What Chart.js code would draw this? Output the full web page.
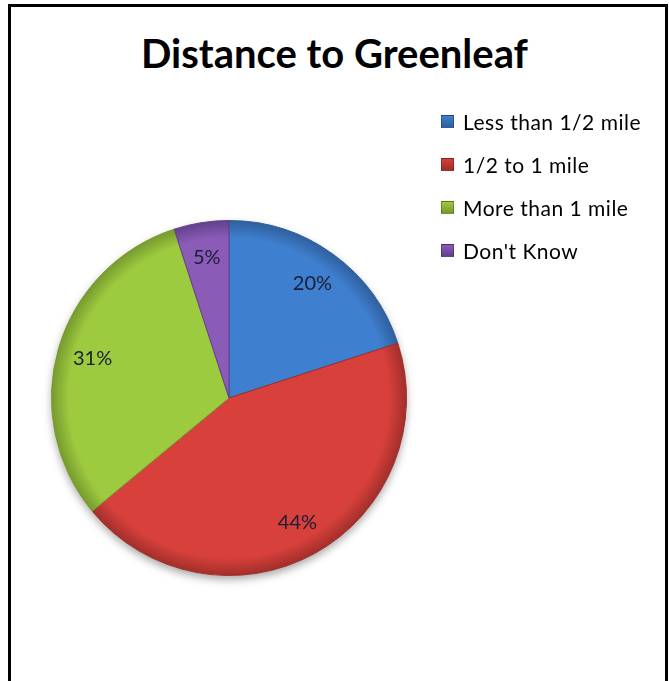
<!DOCTYPE html>
<html>
<head>
    <title>Distance to Greenleaf</title>
    <meta charset="utf-8">
    <script src="https://cdn.jsdelivr.net/npm/chart.js@4.4.1/dist/chart.umd.min.js"></script>
    <style>
        body{ margin:0; background:#fff; overflow:hidden; font-family:Lato, sans-serif;}
        .frame{position:absolute; left:8px; top:4px; width:654px; height:720px; border:3px solid #000; border-bottom:none;}
        .title{position:absolute; left:0; top:29px; width:669px; text-align:center; font:bold 40px Lato, sans-serif; line-height:48px; color:#000;}
        #pie{position:absolute; left:0; top:0;}
        .legend{position:absolute; left:441px; top:100px;}
        .item{display:flex; align-items:center; height:43px; font-size:21px; letter-spacing:0.5px; color:#000; white-space:nowrap;}
        .box{width:11px; height:11px; margin-right:9px; border:1px solid rgba(0,0,0,0.25);}
    </style>
</head>
<body>
    <div class="frame"></div>
    <div class="title">Distance to Greenleaf</div>
    <canvas id="pie" width="669" height="681"></canvas>
    <div class="legend" id="legend"></div>

    <script>
        // data
        var labels = ['Less than 1/2 mile', '1/2 to 1 mile', 'More than 1 mile', "Don't Know"];
        var values = [20, 44, 31, 5];
        var colors = ['#3f7fcf', '#d7403b', '#9dcb3f', '#8a5cb8'];
        var edges  = ['#2f5f9c', '#a02e2a', '#76992e', '#61408a'];

        // legend
        var lg = document.getElementById('legend');
        for (var i = 0; i < labels.length; i++) {
            var row = document.createElement('div');
            row.className = 'item';
            row.innerHTML = '<span class="box" style="background:linear-gradient(' + colors[i] + ',' + edges[i] + ')"></span>' + labels[i];
            lg.appendChild(row);
        }

        // slightly darker rim, like the office bevel
        function shade(c) {
            var i = c.dataIndex;
            var a = c.chart.chartArea;
            if (!a) return colors[i];
            var cx = (a.left + a.right) / 2, cy = (a.top + a.bottom) / 2;
            var r = Math.min(a.right - a.left, a.bottom - a.top) / 2;
            var g = c.chart.ctx.createRadialGradient(cx, cy, 0, cx, cy, r);
            g.addColorStop(0, colors[i]);
            g.addColorStop(0.9, colors[i]);
            g.addColorStop(1, edges[i]);
            return g;
        }

        // soft shadow below the pie
        const pieShadow = {
            id: 'pieShadow',
            beforeDatasetsDraw(chart) {
                var arc = chart.getDatasetMeta(0).data[0];
                if (!arc) return;
                var ctx = chart.ctx;
                ctx.save();
                ctx.shadowColor = 'rgba(0,0,0,0.35)';
                ctx.shadowBlur = 8;
                ctx.shadowOffsetY = 4;
                ctx.fillStyle = '#fff';
                ctx.beginPath();
                ctx.arc(arc.x, arc.y, arc.outerRadius, 0, Math.PI * 2);
                ctx.fill();
                ctx.restore();
            }
        };

        // percentage labels inside the slices
        const pctLabels = {
            id: 'pctLabels',
            afterDatasetsDraw(chart) {
                var ctx = chart.ctx;
                var meta = chart.getDatasetMeta(0);
                ctx.save();
                ctx.font = '20px Lato';
                ctx.fillStyle = '#1b1e36';
                ctx.textAlign = 'center';
                ctx.textBaseline = 'middle';
                meta.data.forEach(function(arc, i) {
                    var mid = (arc.startAngle + arc.endAngle) / 2;
                    var r = arc.outerRadius * 0.8;
                    ctx.fillText(values[i] + '%', arc.x + Math.cos(mid) * r, arc.y + Math.sin(mid) * r);
                });
                ctx.restore();
            }
        };

        var myChart = new Chart(document.getElementById('pie'), {
            type: 'pie',
            data: {
                labels: labels,
                datasets: [{
                    data: values,
                    backgroundColor: shade,
                    borderColor: edges,
                    borderWidth: 1
                }]
            },
            options: {
                responsive: false,
                animation: false,
                layout: { padding: { left: 51, right: 262, top: 220, bottom: 105 } },
                plugins: {
                    legend: { display: false },
                    title: { display: false },
                    tooltip: { enabled: false }
                }
            },
            plugins: [pieShadow, pctLabels]
        });
    </script>
</body>
</html>
